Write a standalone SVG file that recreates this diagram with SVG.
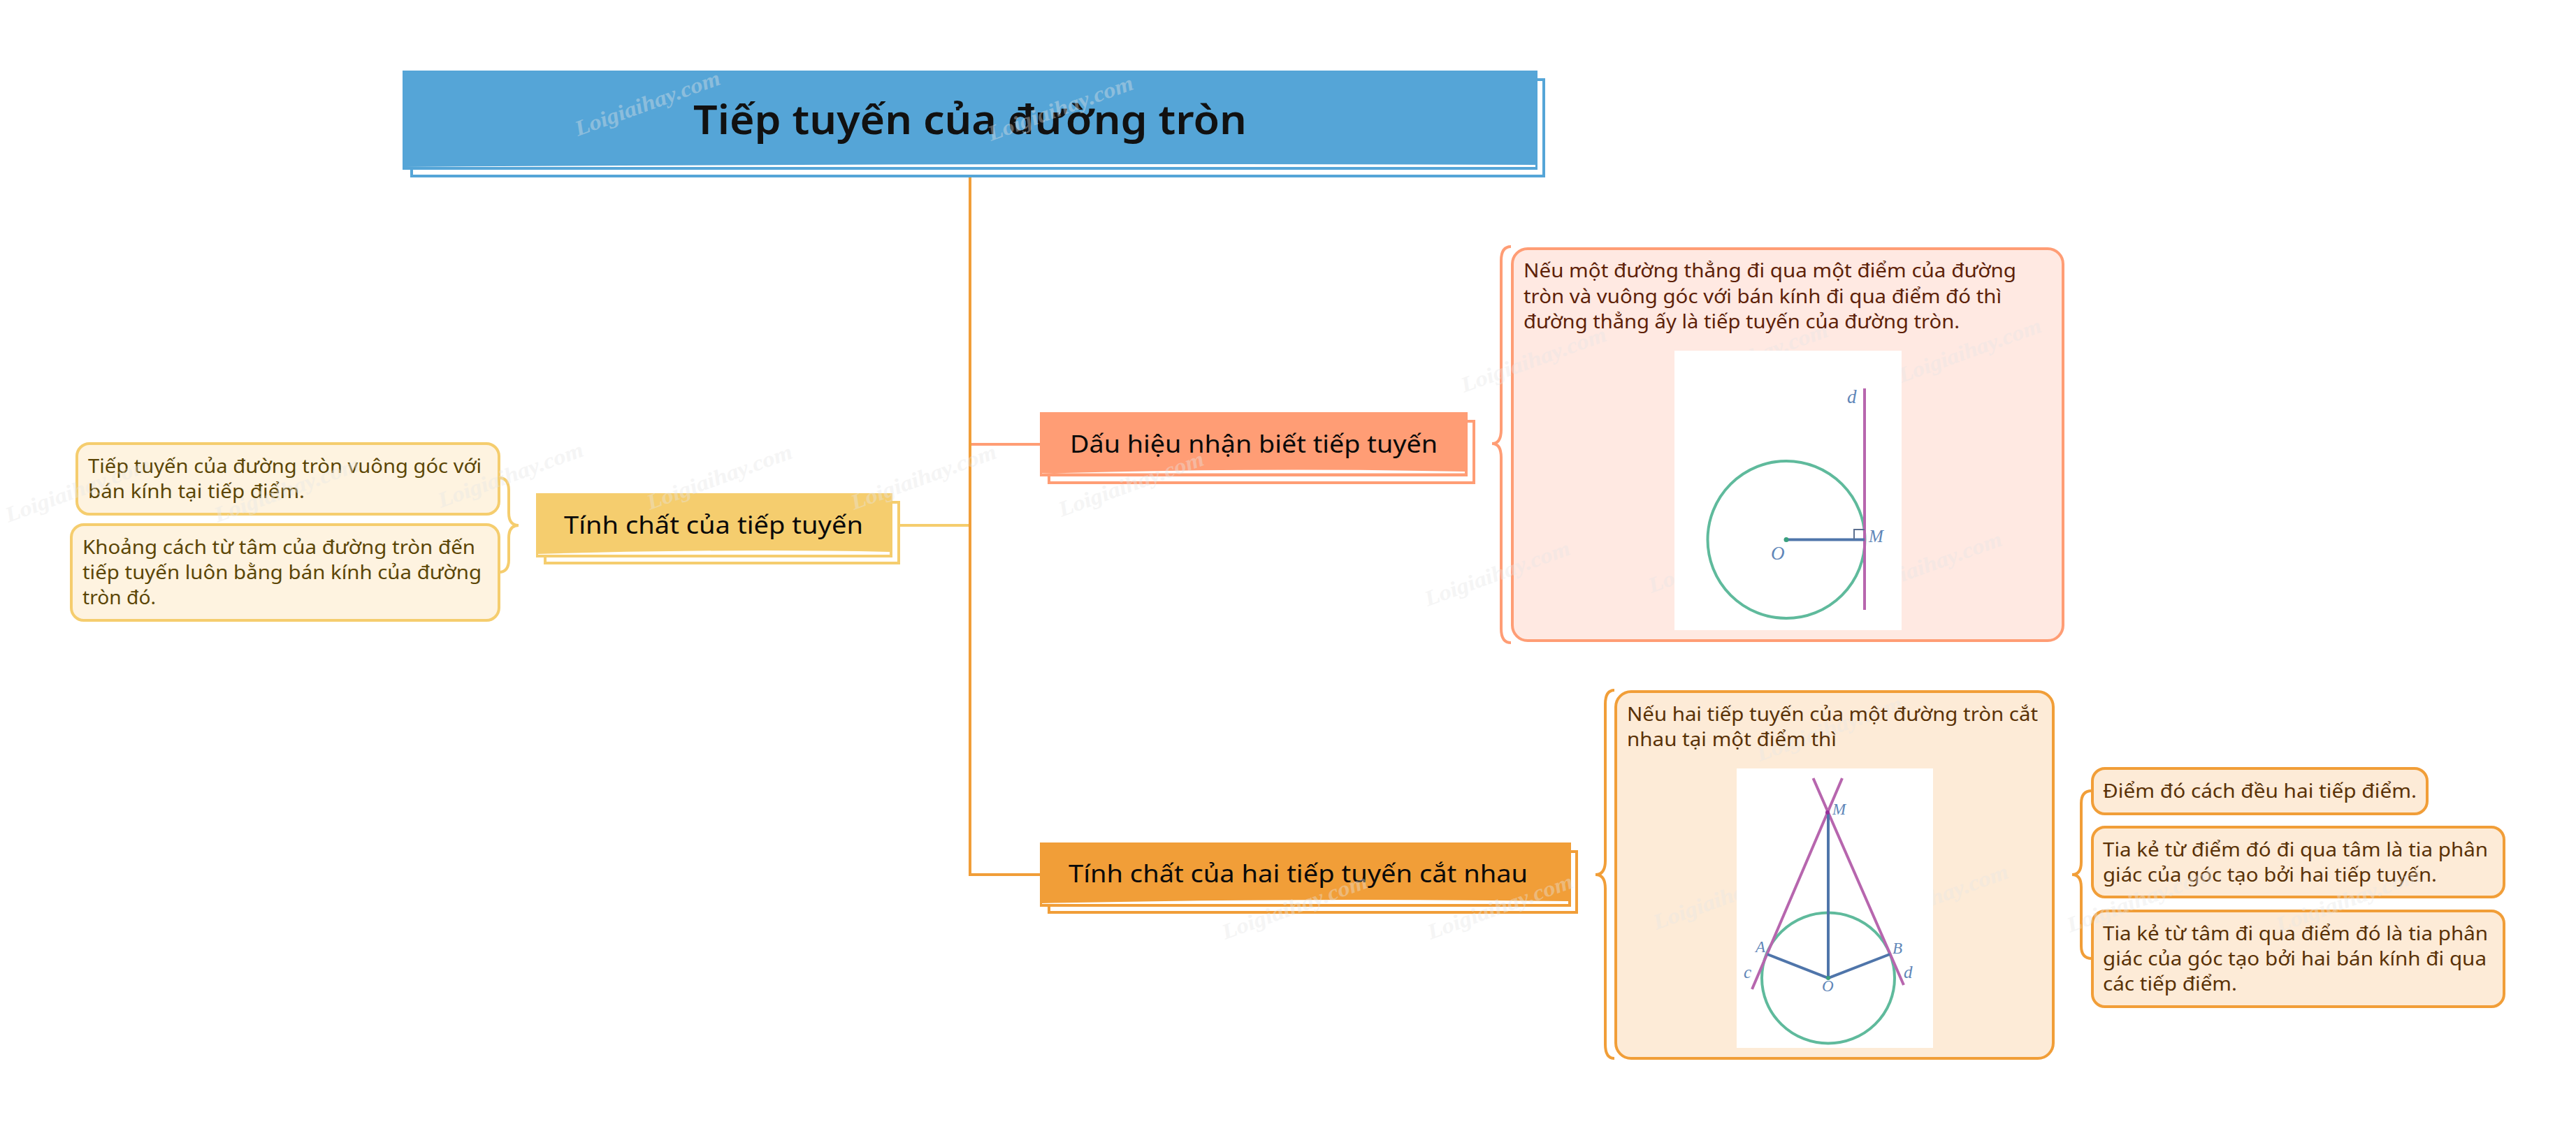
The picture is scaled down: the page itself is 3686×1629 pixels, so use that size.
<svg xmlns="http://www.w3.org/2000/svg" width="3686" height="1629" viewBox="0 0 3686 1629">
<style>
text{font-family:"Noto Sans","Open Sans","Liberation Sans",sans-serif}
.t{font-size:28px}
.main{font-size:35px;fill:#0a0a0a}
.title{font-size:58px;font-weight:600;fill:#111}
.wm{font-family:"Liberation Serif",serif;font-size:31px;font-weight:700;font-style:italic;fill:#e6e6e6;opacity:.38}
.lab{font-family:"Liberation Serif",serif;font-style:italic;fill:#5f86b8}
.shadow{fill:#fff;stroke-width:4}
.wave{fill:#fff}
.line{fill:none;stroke-width:4}
.c-org{stroke:#f19e38}.c-sal{stroke:#ff9d75}.c-yel{stroke:#f5cd6e}
.leaf{stroke-width:4}
.leaf-o{fill:#fdebd7;stroke:#f19e38}
.leaf-y{fill:#fef3e0;stroke:#f5cd6e}
.tx-o{fill:#5a3207}.tx-y{fill:#5c4606}.tx-s{fill:#5e2208}
.circ{fill:none;stroke:#5fba9c;stroke-width:4}
.tan{stroke:#b766ae;stroke-width:4;fill:none}
.rad{stroke:#4f75aa;stroke-width:4;fill:none}
</style>
<rect width="3686" height="1629" fill="#fff"/>

<g id="connectors">
<path class="line c-org" d="M1388,243V1252H1488"/>
<path class="line c-sal" d="M1390,636H1488"/>
<path class="line c-yel" d="M1277,752H1386"/>
<path class="line c-sal" d="M2162,353Q2148,353 2148,373V615Q2148,635 2135,635Q2148,635 2148,655V900Q2148,920 2162,920"/>
<path class="line c-org" d="M2310,988Q2297,988 2297,1008V1232Q2297,1252 2283,1252Q2297,1252 2297,1272V1495Q2297,1515 2310,1515"/>
<path class="line c-org" d="M2993,1132Q2978,1132 2978,1150V1234Q2978,1252 2965,1252Q2978,1252 2978,1270V1354Q2978,1372 2993,1372"/>
<path class="line c-yel" d="M714,684Q728,684 728,702V734Q728,752 742,752Q728,752 728,770V801Q728,819 714,819"/>
</g>

<g id="node-title">
<rect class="shadow" x="589" y="114" width="1620" height="138" style="stroke:#55a5d7"/>
<rect x="576" y="101" width="1624" height="142" fill="#55a5d7"/>
<path class="wave" d="M579,239Q1400,233 2197,236V239Z"/>
<text class="title" x="992" y="192" textLength="792" lengthAdjust="spacingAndGlyphs">Tiếp tuyến của đường tròn</text>
</g>

<g id="node-dau-hieu">
<rect class="shadow c-sal" x="1501" y="603" width="608" height="88"/>
<rect x="1488" y="590" width="612" height="92" fill="#ff9d75"/>
<path class="wave" d="M1491,678Q1800,669 2096,675V677.5H1491Z"/>
<text class="main" x="1531" y="648" textLength="526" lengthAdjust="spacingAndGlyphs">Dấu hiệu nhận biết tiếp tuyến</text>
</g>

<g id="node-tinh-chat">
<rect class="shadow c-yel" x="780" y="719" width="506" height="87"/>
<rect x="767" y="706" width="510" height="92" fill="#f5cd6e"/>
<path class="wave" d="M770,793Q1050,785 1273,790V794H770Z"/>
<text class="main" x="807" y="764" textLength="428" lengthAdjust="spacingAndGlyphs">Tính chất của tiếp tuyến</text>
</g>

<g id="node-hai-tiep-tuyen">
<rect class="shadow c-org" x="1501" y="1219" width="755" height="87"/>
<rect x="1488" y="1206" width="760" height="92" fill="#f19e38"/>
<path class="wave" d="M1491,1293Q1850,1285 2244,1290V1294H1491Z"/>
<text class="main" x="1529" y="1263" textLength="657" lengthAdjust="spacingAndGlyphs">Tính chất của hai tiếp tuyến cắt nhau</text>
</g>

<g id="panel-dau-hieu">
<rect class="leaf c-sal" x="2164" y="356" width="788" height="561" rx="22" fill="#ffe9e2"/>
<text class="wm" x="2095" y="562" transform="rotate(-20 2095 562)" textLength="219" lengthAdjust="spacingAndGlyphs">Loigiaihay.com</text>
<text class="wm" x="2721" y="548" transform="rotate(-20 2721 548)" textLength="215" lengthAdjust="spacingAndGlyphs">Loigiaihay.com</text>
<text class="wm" x="2661" y="855" transform="rotate(-20 2661 855)" textLength="219" lengthAdjust="spacingAndGlyphs">Loigiaihay.com</text>
<text class="wm" x="2363" y="849" transform="rotate(-20 2363 849)" textLength="219" lengthAdjust="spacingAndGlyphs">Loigiaihay.com</text>
<text class="wm" x="2043" y="868" transform="rotate(-20 2043 868)" textLength="219" lengthAdjust="spacingAndGlyphs">Loigiaihay.com</text>
<text class="wm" x="2412" y="556" transform="rotate(-20 2412 556)" textLength="219" lengthAdjust="spacingAndGlyphs">Loigiaihay.com</text>
<text class="t tx-s" x="2180" y="397" textLength="705" lengthAdjust="spacingAndGlyphs">Nếu một đường thẳng đi qua một điểm của đường</text>
<text class="t tx-s" x="2180" y="434" textLength="684" lengthAdjust="spacingAndGlyphs">tròn và vuông góc với bán kính đi qua điểm đó thì</text>
<text class="t tx-s" x="2180" y="470" textLength="624" lengthAdjust="spacingAndGlyphs">đường thẳng ấy là tiếp tuyến của đường tròn.</text>
<rect x="2396" y="502" width="325" height="400" fill="#fff"/>
<ellipse class="circ" cx="2556" cy="772.5" rx="112.5" ry="112.5"/>
<path class="tan" d="M2668,556V873"/>
<path class="rad" d="M2556,772.5H2668"/>
<path d="M2653,772V758H2668" fill="none" stroke="#5b6f8f" stroke-width="2"/>
<circle cx="2556" cy="772.5" r="3.5" fill="#3aa07e"/>
<text class="lab" x="2643" y="577" font-size="27">d</text>
<text class="lab" x="2674" y="776" font-size="25">M</text>
<text class="lab" x="2534" y="801" font-size="27">O</text>
</g>

<g id="panel-hai-tiep-tuyen">
<rect class="leaf c-org" x="2312" y="990" width="626" height="525" rx="22" fill="#fdebd7"/>
<text class="wm" x="2370" y="1331" transform="rotate(-20 2370 1331)" textLength="219" lengthAdjust="spacingAndGlyphs">Loigiaihay.com</text>
<text class="wm" x="2670" y="1331" transform="rotate(-20 2670 1331)" textLength="219" lengthAdjust="spacingAndGlyphs">Loigiaihay.com</text>
<text class="wm" x="2518" y="1090" transform="rotate(-20 2518 1090)" textLength="219" lengthAdjust="spacingAndGlyphs">Loigiaihay.com</text>
<text class="t tx-o" x="2328" y="1032" textLength="588" lengthAdjust="spacingAndGlyphs">Nếu hai tiếp tuyến của một đường tròn cắt</text>
<text class="t tx-o" x="2328" y="1068" textLength="300" lengthAdjust="spacingAndGlyphs">nhau tại một điểm thì</text>
<rect x="2485" y="1100" width="281" height="400" fill="#fff"/>
<ellipse class="circ" cx="2616" cy="1400" rx="95" ry="93.5"/>
<path class="tan" d="M2636,1114L2507,1416M2594.5,1114L2724,1410"/>
<path class="rad" d="M2616,1163V1400M2529,1366L2616,1400L2704,1366"/>
<circle cx="2616" cy="1400" r="3" fill="#3aa07e"/>
<circle cx="2615" cy="1163" r="3" fill="#96309a"/>
<text class="lab" x="2622" y="1166" font-size="23">M</text>
<text class="lab" x="2512" y="1363" font-size="23">A</text>
<text class="lab" x="2708" y="1365" font-size="23">B</text>
<text class="lab" x="2495" y="1400" font-size="25">c</text>
<text class="lab" x="2724" y="1400" font-size="25">d</text>
<text class="lab" x="2607" y="1419" font-size="23">O</text>
</g>

<g id="leaf-r1">
<rect class="leaf leaf-o" x="2994" y="1100" width="479" height="65" rx="18"/>
<text class="t tx-o" x="3009" y="1142" textLength="449" lengthAdjust="spacingAndGlyphs">Điểm đó cách đều hai tiếp điểm.</text>
</g>
<g id="leaf-r2">
<rect class="leaf leaf-o" x="2994" y="1184" width="589" height="100" rx="18"/>
<text class="t tx-o" x="3009" y="1226" textLength="551" lengthAdjust="spacingAndGlyphs">Tia kẻ từ điểm đó đi qua tâm là tia phân</text>
<text class="t tx-o" x="3009" y="1262" textLength="478" lengthAdjust="spacingAndGlyphs">giác của góc tạo bởi hai tiếp tuyến.</text>
</g>
<g id="leaf-r3">
<rect class="leaf leaf-o" x="2994" y="1304" width="589" height="137" rx="18"/>
<text class="t tx-o" x="3009" y="1346" textLength="551" lengthAdjust="spacingAndGlyphs">Tia kẻ từ tâm đi qua điểm đó là tia phân</text>
<text class="t tx-o" x="3009" y="1382" textLength="549" lengthAdjust="spacingAndGlyphs">giác của góc tạo bởi hai bán kính đi qua</text>
<text class="t tx-o" x="3009" y="1418" textLength="192" lengthAdjust="spacingAndGlyphs">các tiếp điểm.</text>
</g>
<g id="leaf-l1">
<rect class="leaf leaf-y" x="110" y="635" width="604" height="101" rx="18"/>
<text class="t tx-y" x="126" y="677" textLength="563" lengthAdjust="spacingAndGlyphs">Tiếp tuyến của đường tròn vuông góc với</text>
<text class="t tx-y" x="126" y="713" textLength="310" lengthAdjust="spacingAndGlyphs">bán kính tại tiếp điểm.</text>
</g>
<g id="leaf-l2">
<rect class="leaf leaf-y" x="102" y="751" width="612" height="137" rx="18"/>
<text class="t tx-y" x="118" y="793" textLength="562" lengthAdjust="spacingAndGlyphs">Khoảng cách từ tâm của đường tròn đến</text>
<text class="t tx-y" x="118" y="829" textLength="571" lengthAdjust="spacingAndGlyphs">tiếp tuyến luôn bằng bán kính của đường</text>
<text class="t tx-y" x="118" y="865" textLength="105" lengthAdjust="spacingAndGlyphs">tròn đó.</text>
</g>

<g id="watermarks">
<text class="wm" x="827" y="195" transform="rotate(-20 827 195)" textLength="219" lengthAdjust="spacingAndGlyphs">Loigiaihay.com</text>
<text class="wm" x="1418" y="202" transform="rotate(-20 1418 202)" textLength="219" lengthAdjust="spacingAndGlyphs">Loigiaihay.com</text>
<text class="wm" x="12" y="748" transform="rotate(-20 12 748)" textLength="219" lengthAdjust="spacingAndGlyphs">Loigiaihay.com</text>
<text class="wm" x="311" y="748" transform="rotate(-20 311 748)" textLength="219" lengthAdjust="spacingAndGlyphs">Loigiaihay.com</text>
<text class="wm" x="631" y="727" transform="rotate(-20 631 727)" textLength="219" lengthAdjust="spacingAndGlyphs">Loigiaihay.com</text>
<text class="wm" x="930" y="730" transform="rotate(-20 930 730)" textLength="219" lengthAdjust="spacingAndGlyphs">Loigiaihay.com</text>
<text class="wm" x="1222" y="730" transform="rotate(-20 1222 730)" textLength="219" lengthAdjust="spacingAndGlyphs">Loigiaihay.com</text>
<text class="wm" x="1519" y="740" transform="rotate(-20 1519 740)" textLength="219" lengthAdjust="spacingAndGlyphs">Loigiaihay.com</text>
<text class="wm" x="1753" y="1345" transform="rotate(-20 1753 1345)" textLength="219" lengthAdjust="spacingAndGlyphs">Loigiaihay.com</text>
<text class="wm" x="2047" y="1345" transform="rotate(-20 2047 1345)" textLength="219" lengthAdjust="spacingAndGlyphs">Loigiaihay.com</text>
<text class="wm" x="2962" y="1335" transform="rotate(-20 2962 1335)" textLength="219" lengthAdjust="spacingAndGlyphs">Loigiaihay.com</text>
<text class="wm" x="3261" y="1335" transform="rotate(-20 3261 1335)" textLength="219" lengthAdjust="spacingAndGlyphs">Loigiaihay.com</text>
</g>
</svg>
